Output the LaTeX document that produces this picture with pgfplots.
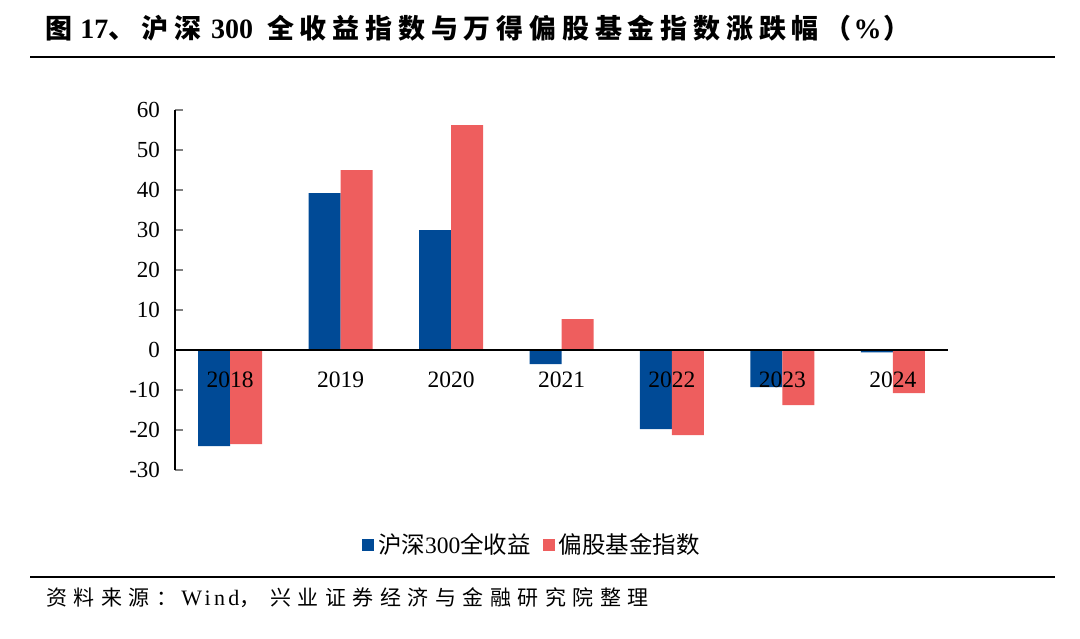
\documentclass[border=0pt]{standalone}
\usepackage{pgfplots}
\pgfplotsset{compat=1.18}
\usepackage{fontspec}
\setmainfont{Liberation Serif}
\newfontfamily\cjk{Noto Sans CJK SC}
\newfontfamily\cjktitle{Noto Sans CJK SC}[LetterSpace=21.5]
\newfontfamily\cjksrc{Noto Sans CJK SC}[LetterSpace=31]
\newfontfamily\srclatin{Liberation Serif}[LetterSpace=15]
\definecolor{hsblue}{RGB}{0,74,150}
\definecolor{hsred}{RGB}{238,94,94}
\begin{document}
\begin{tikzpicture}[x=0.5pt,y=0.5pt]
\path[use as bounding box] (0,0) rectangle (1080,638);
\draw[line width=1pt] (30,581) -- (1055,581);
\draw[line width=1pt] (30,61) -- (1055,61);
\node[anchor=west,inner sep=0pt] at (45,610) {\fontsize{13.5}{16}\selectfont\bfseries {\cjktitle 图}\hspace{4pt}{\fontsize{14}{16}\selectfont 17}{\cjktitle 、沪深}\hspace{5pt}{\fontsize{14}{16}\selectfont 300}\hspace{7pt}{\cjktitle 全收益指数与万得偏股基金指数涨跌幅（}\hspace{1pt}{\fontsize{14}{16}\selectfont\%}\hspace{1pt}{\cjktitle ）}};
\node[anchor=west,inner sep=0pt] at (46,40) {\fontsize{10.5}{13}\selectfont {\cjksrc 资料来源：}\hspace{2pt}{\fontsize{11}{13}\selectfont\srclatin Wind}{\cjksrc ，}\hspace{5pt}{\cjksrc 兴业证券经济与金融研究院整理}};
\begin{axis}[
  at={(87.5pt,84pt)}, anchor=south west,
  scale only axis, width=386.5pt, height=180pt,
  xmin=-0.5, xmax=6.5, ymin=-30, ymax=60,
  axis x line=none, axis y line*=left,
  ytick={-30,-20,...,60},
  tick align=inside, major tick length=4pt,
  y axis line style={line width=0.9pt},
  ytick style={line width=0.9pt},
  yticklabel style={font=\fontsize{11.5}{13}\selectfont, xshift=-4pt},
  /pgf/number format/assume math mode=true,
  ybar=0pt, bar width=16pt,
  legend style={at={(0.463,-0.208)}, anchor=center, draw=none, fill=none,
    legend columns=2, font=\fontsize{11.75}{13}\selectfont,
    /tikz/every even column/.append style={column sep=4pt}},
  clip=false,
]
\addplot[fill=hsblue, draw=none, legend image code/.code={\fill[hsblue] (0pt,-3pt) rectangle (6pt,3pt);}] coordinates {(0,-24) (1,39.25) (2,30) (3,-3.5) (4,-19.75) (5,-9.25) (6,-0.6)};
\addlegendentry{{\cjk 沪深}300{\cjk 全收益}}
\addplot[fill=hsred, draw=none, legend image code/.code={\fill[hsred] (0pt,-3pt) rectangle (6pt,3pt);}] coordinates {(0,-23.5) (1,45) (2,56.25) (3,7.75) (4,-21.25) (5,-13.75) (6,-10.75)};
\addlegendentry{{\cjk 偏股基金指数}}
\draw[line width=0.9pt] (axis cs:-0.5,0) -- (axis cs:6.5,0);
\node[font=\fontsize{11.75}{13}\selectfont,yshift=-15pt] at (axis cs:0,0) {2018};
\node[font=\fontsize{11.75}{13}\selectfont,yshift=-15pt] at (axis cs:1,0) {2019};
\node[font=\fontsize{11.75}{13}\selectfont,yshift=-15pt] at (axis cs:2,0) {2020};
\node[font=\fontsize{11.75}{13}\selectfont,yshift=-15pt] at (axis cs:3,0) {2021};
\node[font=\fontsize{11.75}{13}\selectfont,yshift=-15pt] at (axis cs:4,0) {2022};
\node[font=\fontsize{11.75}{13}\selectfont,yshift=-15pt] at (axis cs:5,0) {2023};
\node[font=\fontsize{11.75}{13}\selectfont,yshift=-15pt] at (axis cs:6,0) {2024};
\end{axis}
\end{tikzpicture}
\end{document}
